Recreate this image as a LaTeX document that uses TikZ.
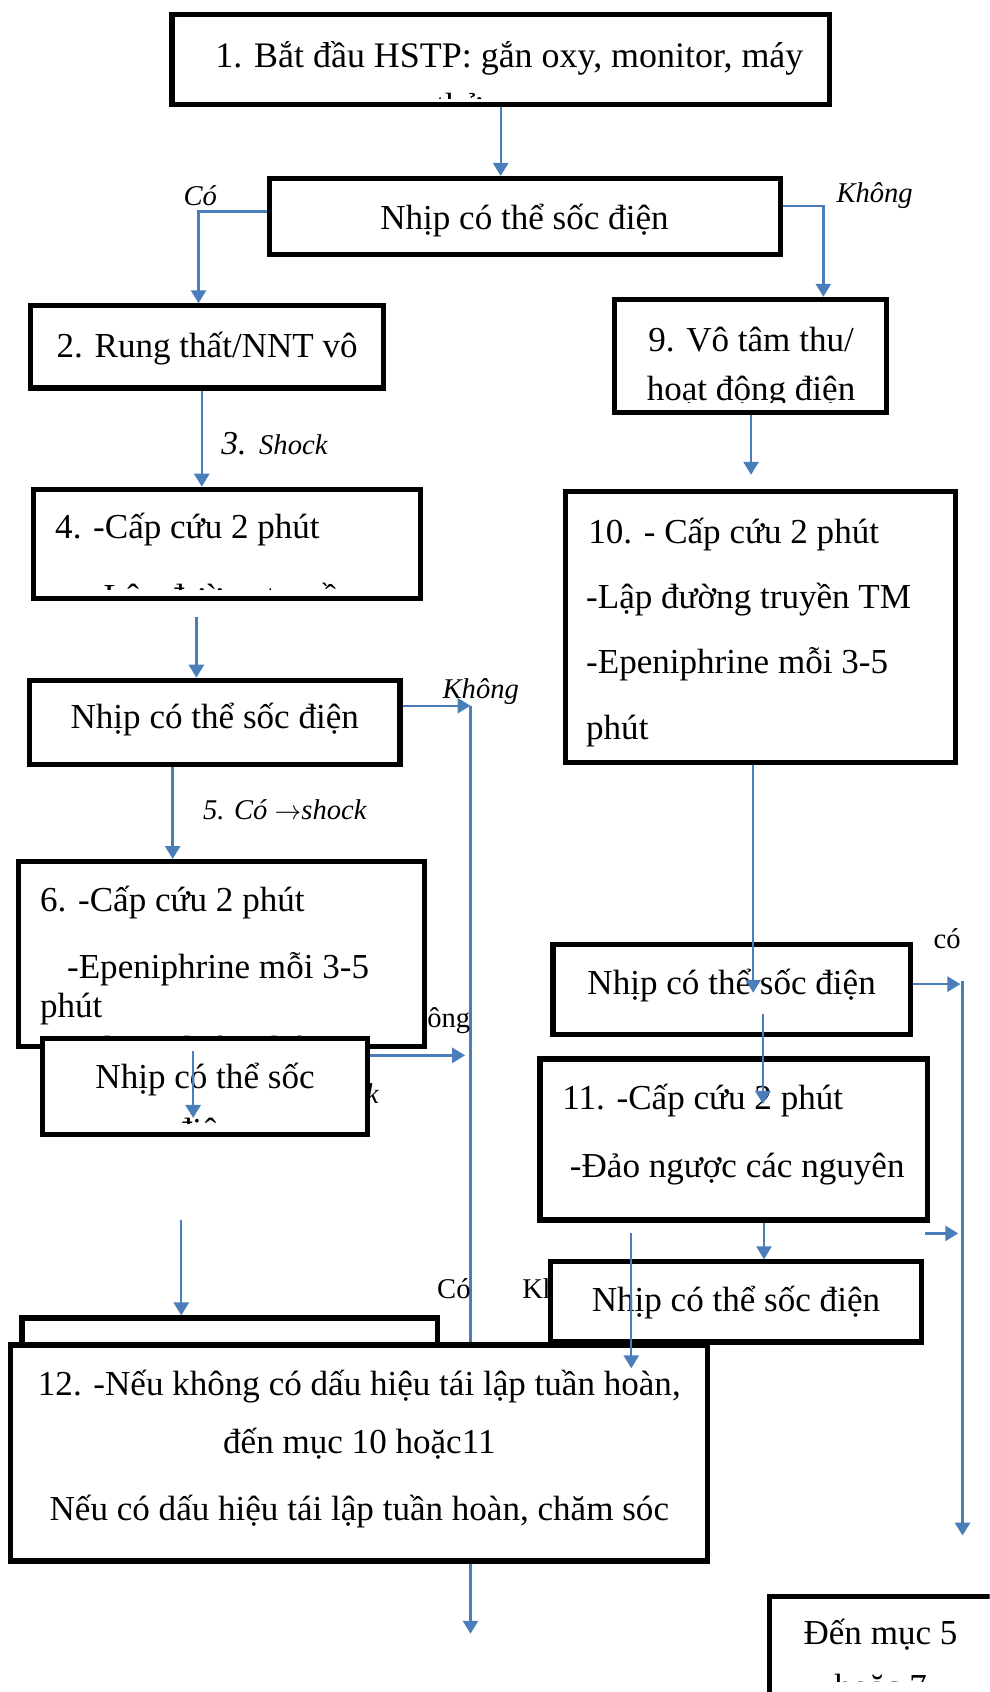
\documentclass[tikz,border=0pt]{standalone}
\usepackage{fontspec}
\setmainfont{Liberation Serif}
\usetikzlibrary{arrows.meta}
\definecolor{flowblue}{RGB}{74,126,187}
\tikzset{
  box/.style={draw=black, line width=4.8pt, fill=white, inner sep=0pt, rectangle},
  conn/.style={draw=flowblue, line width=2.2pt},
  arr/.style={conn, -{Triangle[length=12pt,width=14pt]}},
  txt/.style={inner sep=0pt, font=\fontsize{32.5}{39}\selectfont},
  lbl/.style={inner sep=0pt, font=\fontsize{26.5}{32}\selectfont\itshape},
  lblup/.style={inner sep=0pt, font=\fontsize{26.5}{32}\selectfont},
}
% box given by its outer edges: name, left, top, right, bottom
\newcommand\flowbox[5]{%
  \node[box, minimum width={(#4)-(#2)-4.8}, minimum height={(#5)-(#3)-4.8}]
    (#1) at ({((#2)+(#4))/2},{((#3)+(#5))/2}) {};}
% long arrow used inside the connector labels
\newcommand\larr{{\upshape$\rightarrow$}}
\begin{document}
\begin{tikzpicture}[x=1pt, y=-1pt]
\clip (0,0) rectangle (917,1568);
\fill[white] (0,0) rectangle (917,1568);

% long return lines
\coordinate (v1top) at (436,654);
\coordinate (v1bot) at (436,1514);
\draw[arr] (v1top) -- (v1bot);
\coordinate (v2top) at (892,909);
\coordinate (v2bot) at (892,1423);
\draw[arr] (v2top) -- (v2bot);

% labels partly hidden by boxes
\node[lblup, anchor=base east] (lnoA) at (436,952) {Không};
\node[lbl, anchor=base east] (lshockB) at (351,1023) {7. Có \larr shock};
\node[lblup, anchor=base west] (lyesC) at (405,1203) {Có};
\node[lblup, anchor=base west] (lnoC) at (484,1203) {Không};

% 1
\flowbox{b1}{157}{11}{771}{99}
\begin{scope}
  \clip (161,15) rectangle (767,91);
  \node[txt, anchor=base, font=\fontsize{33.3}{40}\selectfont] at (472,63) {1. Bắt đầu HSTP: gắn oxy, monitor, máy};
  \node[txt, anchor=base] at (425,109) {thở};
\end{scope}

% first decision
\flowbox{b2}{247}{163}{726}{238}
\node[txt, anchor=base] at (486,213) {Nhịp có thể sốc điện};

% 2
\flowbox{b3}{26}{281}{358}{362}
\node[txt, anchor=base] at (192,331) {2. Rung thất/NNT vô};

% 9
\flowbox{b9}{567}{275}{824}{385}
\begin{scope}
  \clip (571,279) rectangle (820,373);
  \node[txt, anchor=base] at (696,326) {9. Vô tâm thu/};
  \node[txt, anchor=base] at (696,371) {hoạt động điện};
\end{scope}

% 4
\flowbox{b4}{29}{451}{392}{557}
\begin{scope}
  \clip (33,455) rectangle (388,546);
  \node[txt, anchor=base west] at (51,499) {4. -Cấp cứu 2 phút};
  \node[txt, anchor=base west] at (85,564) {-Lập đường truyền};
\end{scope}

% second decision (left)
\flowbox{b5}{25}{628}{373}{711}
\node[txt, anchor=base] at (199,675) {Nhịp có thể sốc điện};

% 10
\flowbox{b10}{522}{453}{888}{709}
\node[txt, anchor=base west] at (545,504) {10. - Cấp cứu 2 phút};
\node[txt, anchor=base west] at (543,564) {-Lập đường truyền TM};
\node[txt, anchor=base west] at (543,624) {-Epeniphrine mỗi 3-5};
\node[txt, anchor=base west] at (543,685) {phút};

% 6
\flowbox{b6}{15}{796}{396}{972}
\begin{scope}
  \clip (19,800) rectangle (392,968);
  \node[txt, anchor=base west] at (37,845) {6. -Cấp cứu 2 phút};
  \node[txt, anchor=base west] at (62,907) {-Epeniphrine mỗi 3-5};
  \node[txt, anchor=base west] at (37,943) {phút};
  \node[txt, anchor=base west] at (62,983) {-Những biện pháp};
\end{scope}

% third decision (left)
\flowbox{b7}{37}{960}{343}{1054}
\begin{scope}
  \clip (41,964) rectangle (339,1041);
  \node[txt, anchor=base] at (190,1009) {Nhịp có thể sốc};
  \node[txt, anchor=base] at (190,1059) {điện};
\end{scope}

% decision after 10
\flowbox{r1}{510}{873}{846}{961}
\node[txt, anchor=base] at (678,922) {Nhịp có thể sốc điện};

% 11
\flowbox{b11}{498}{979}{862}{1133}
\node[txt, anchor=base west] at (521,1028) {11. -Cấp cứu 2 phút};
\node[txt, anchor=base west] at (528,1091) {-Đảo ngược các nguyên};

% decision after 11
\flowbox{r2}{508}{1167}{856}{1246}
\node[txt, anchor=base] at (682,1215) {Nhịp có thể sốc điện};

% 8
\flowbox{b8}{18}{1219}{408}{1330}
\node[txt, anchor=base west] at (51,1271) {8. -Cấp cứu 2 phút};

% 12
\flowbox{b12}{7}{1244}{658}{1449}
\node[txt, anchor=base] at (333,1293) {12. -Nếu không có dấu hiệu tái lập tuần hoàn,};
\node[txt, anchor=base] at (333,1347) {đến mục 10 hoặc11};
\node[txt, anchor=base] at (333,1409) {Nếu có dấu hiệu tái lập tuần hoàn, chăm sóc};

% jump box
\flowbox{b13}{711}{1477}{925}{1620}
\begin{scope}
  \clip (715,1481) rectangle (917,1558);
  \node[txt, anchor=base] at (816,1524) {Đến mục 5};
  \node[txt, anchor=base] at (816,1574) {hoặc 7};
\end{scope}

% connectors
\draw[arr] (b1.south) -- (b1.south |- b2.north);
\draw[arr] (b2.west |- 0,196) -- (184,196) -- (184,0 |- b3.north);
\draw[arr] (b2.east |- 0,191) -- (763,191) -- (763,0 |- b9.north);
\draw[arr] (187,0 |- b3.south) -- (187,0 |- b4.north);
\coordinate (c9) at (696,440);
\draw[arr] (696,0 |- b9.south) -- (c9);
\coordinate (c4) at (182,572);
\draw[arr] (c4) -- (c4 |- b5.north);
\draw[arr] (b5.east |- v1top) -- (v1top);
\draw[arr] (160,0 |- b5.south) -- (160,0 |- b6.north);
\coordinate (c7a) at (179,974);
\coordinate (c7b) at (179,1036);
\draw[arr] (c7a) -- (c7b);
\coordinate (c7c) at (431,978);
\draw[arr] (b7.east |- c7c) -- (c7c);
\coordinate (c8) at (168,1131);
\draw[arr] (c8) -- (c8 |- b8.north);
\coordinate (c10) at (698,920);
\draw[arr] (698,0 |- b10.south) -- (c10);
\coordinate (c1r) at (890,912);
\draw[arr] (r1.east |- c1r) -- (c1r);
\coordinate (c11a) at (707,940);
\coordinate (c11b) at (707,1023);
\draw[arr] (c11a) -- (c11b);
\draw[arr] (708,0 |- b11.south) -- (708,0 |- r2.north);
\coordinate (c11c) at (857,1143);
\coordinate (c11d) at (888,1143);
\draw[arr] (c11c) -- (c11d);
\coordinate (c12a) at (585,1143);
\coordinate (c12b) at (585,1268);
\draw[arr] (c12a) -- (c12b);

% connector labels
\node[lbl, anchor=base west] (lyesA) at (170,190) {Có};
\node[lbl, anchor=base west] (lnoA0) at (775,188) {Không};
\node[lbl, anchor=base west, font=\fontsize{31}{36}\selectfont\itshape] (lshockA) at (205,421) {3.};
\node[lbl, anchor=base west] (lshockA2) at (240,421) {Shock};
\node[lbl, anchor=base west] (lnoB) at (410,647) {Không};
\node[lbl, anchor=base west] (lshock5) at (188,759) {5. Có \larr shock};
\node[lblup, anchor=base west] (lyesR) at (865,879) {có};
\end{tikzpicture}
\end{document}
